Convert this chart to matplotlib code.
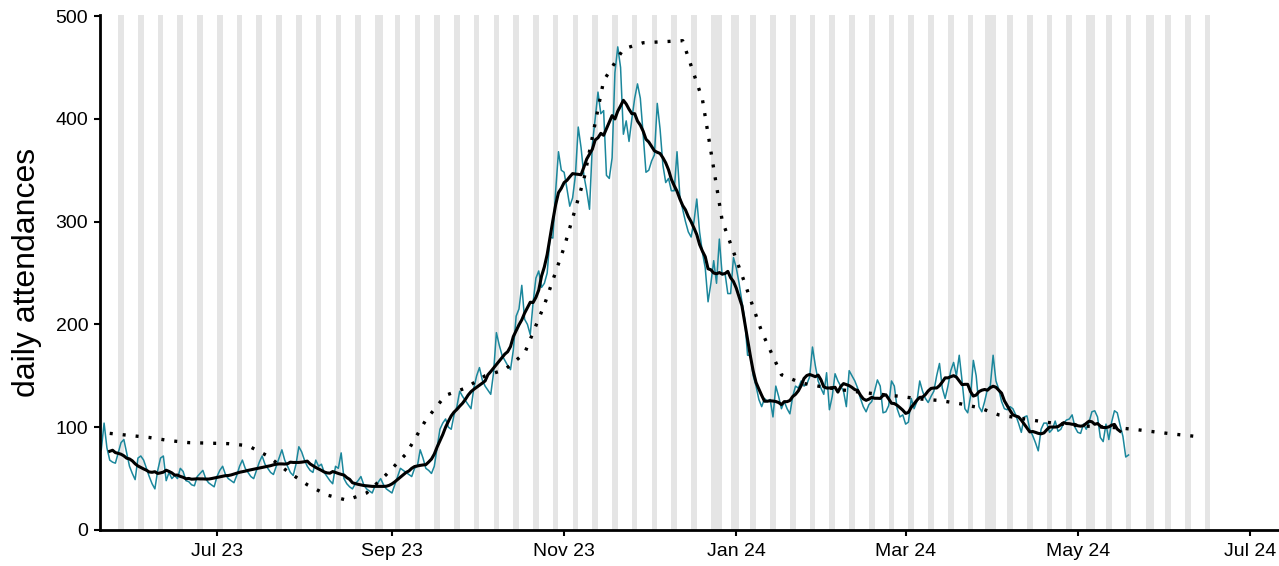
import numpy as np
import pandas as pd
import matplotlib
matplotlib.use("Agg")
from matplotlib import pyplot as plt
import matplotlib.dates as mdates

plt.rcParams["font.family"] = ["Liberation Sans", "DejaVu Sans"]

# daily attendances, one row per week (Sun..Sat), starting Sun 21 May 2023
attendances = [
    78, 104, 80, 68, 66, 65, 75,
    85, 88, 75, 62, 55, 49, 70,
    72, 68, 60, 52, 45, 40, 58,
    70, 72, 48, 56, 50, 53, 50,
    60, 57, 48, 47, 44, 43, 52,
    55, 58, 50, 46, 44, 42, 52,
    58, 62, 54, 50, 48, 46, 53,
    62, 68, 60, 56, 52, 50, 58,
    66, 72, 64, 60, 56, 54, 62,
    70, 78, 68, 62, 56, 53, 64,
    81, 76, 68, 62, 58, 56, 68,
    62, 64, 56, 52, 48, 45, 62,
    60, 75, 50, 45, 42, 40, 45,
    48, 52, 44, 40, 38, 36, 43,
    46, 50, 44, 40, 38, 36, 44,
    52, 60, 58, 56, 54, 52, 60,
    62, 78, 70, 60, 58, 55, 62,
    80, 98, 104, 108, 100, 98, 112,
    120, 135, 130, 126, 122, 118, 138,
    150, 158, 146, 140, 136, 132, 153,
    192, 180, 170, 165, 160, 156, 175,
    208, 215, 238, 205, 200, 190, 221,
    245, 252, 236, 240, 250, 285, 284,
    330, 368, 350, 348, 332, 315, 323,
    345, 392, 372, 345, 330, 312, 375,
    400, 426, 405, 408, 345, 342, 362,
    445, 470, 450, 385, 398, 378, 400,
    420, 434, 420, 385, 348, 350, 359,
    365, 415, 390, 355, 338, 342, 330,
    330, 368, 325, 312, 300, 290, 285,
    300, 322, 290, 270, 255, 222, 240,
    262, 240, 283, 248, 250, 230, 230,
    265, 255, 240, 222, 205, 170, 170,
    150, 140, 127, 120, 128, 125, 127,
    110, 140, 130, 118, 125, 118, 113,
    130, 140, 138, 145, 140, 142, 149,
    178, 160, 145, 138, 132, 153, 117,
    130, 152, 145, 140, 135, 120, 155,
    150, 145, 138, 128, 120, 115, 122,
    125, 135, 146, 140, 114, 115, 121,
    145, 140, 118, 110, 112, 103, 105,
    128, 118, 125, 145, 135, 128, 124,
    130, 135, 150, 162, 138, 128, 140,
    155, 163, 150, 170, 145, 118, 114,
    130, 165, 150, 120, 115, 125, 137,
    140, 170, 145, 137, 125, 118, 117,
    120, 118, 112, 104, 95, 110, 111,
    98, 92, 85, 77, 98, 104, 104,
    95, 98, 106, 96, 98, 104, 107,
    108, 112, 100, 95, 94, 103, 98,
    105, 115, 116, 110, 90, 86, 103,
    88, 105, 116, 114, 102, 91, 71,
    73,
]
first_day = "2023-05-21"

# model curve, weekly from Wed 24 May 2023
model = [
    94, 92, 90, 87, 85, 84.5, 84, 82, 72, 57, 44, 34, 29, 36, 54, 74,
    107, 131, 138, 150, 156, 172, 219, 275, 341, 437, 468, 474, 475, 476,
    419, 301, 248, 193, 151, 143, 139.5, 136.5, 134, 132, 130, 127.5, 126,
    123, 119, 112, 109, 106, 103.3, 101.6, 100.4, 99.5, 97.6, 95.2, 93, 91,
]
model_start = "2023-05-24"

# weekends and bank holidays shaded
shade_start, shade_end = "2023-05-27", "2024-06-16"
bank_holidays = ["2023-08-28", "2023-12-25", "2023-12-26", "2024-01-01",
                 "2024-03-29", "2024-04-01", "2024-05-06", "2024-05-27"]

days = pd.date_range(first_day, periods=len(attendances), freq="D")
daily = pd.Series(attendances, index=days, dtype=float)
rolling = daily.rolling(7, center=True).mean()
model_days = pd.date_range(model_start, periods=len(model), freq="7D")

all_days = pd.date_range(shade_start, shade_end, freq="D")
shaded = [d for d in all_days if d.dayofweek >= 5] + [pd.Timestamp(h) for h in bank_holidays]

fig = plt.figure(figsize=(12.79, 5.66), dpi=100)
ax = fig.add_axes([100 / 1279, 1 - 530 / 566, 1179 / 1279, 515 / 566])

for d in shaded:
    x0 = mdates.date2num(d)
    ax.axvspan(x0, x0 + 1, color="#E5E5E5", lw=0, zorder=0)

ax.plot(days, daily.values, color="#1B879C", lw=1.1, zorder=2)
ax.plot(days, rolling.values, color="black", lw=2.2, zorder=3)
ax.plot(model_days, model, color="black", lw=2.4, linestyle=(0, (0.9, 3.0)),
        dash_capstyle="butt", zorder=4)

ax.set_xlim(mdates.date2num(pd.Timestamp("2023-05-20")) + 0.55,
            mdates.date2num(pd.Timestamp("2024-07-11")) + 0.3)
ax.set_ylim(0, 501)

ax.xaxis.set_major_locator(mdates.MonthLocator(bymonth=[1, 3, 5, 7, 9, 11]))
ax.xaxis.set_major_formatter(mdates.DateFormatter("%b %y"))
ax.set_yticks([0, 100, 200, 300, 400, 500])

for side in ["top", "right"]:
    ax.spines[side].set_visible(False)
for side in ["left", "bottom"]:
    ax.spines[side].set_linewidth(2.0)
    ax.spines[side].set_color("black")

ax.tick_params(axis="both", direction="out", length=4.5, width=1.5,
               labelsize=14, colors="black")
ax.tick_params(axis="x", pad=5)
ax.tick_params(axis="y", pad=4)
ax.set_ylabel("daily attendances", fontsize=23, labelpad=10)

fig.savefig("out.png", dpi=100)
